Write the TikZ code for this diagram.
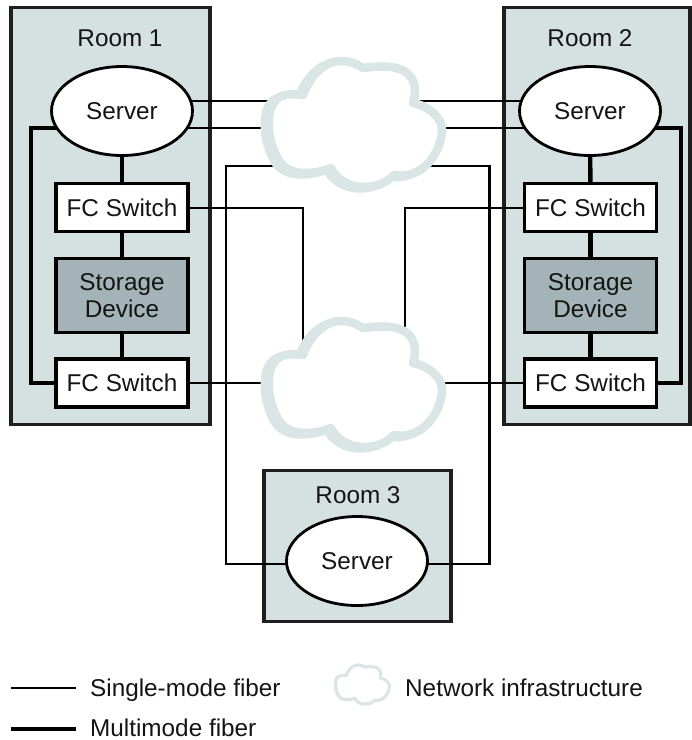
\documentclass[tikz,border=0pt]{standalone}
\usepackage{fontspec}
\setmainfont{Liberation Sans}
\usetikzlibrary{shapes.geometric}
\definecolor{roomfill}{HTML}{D5E0E0}
\definecolor{storefill}{HTML}{A3B3B8}
\definecolor{cloudline}{HTML}{DAE5E6}
\pgfdeclarelayer{roomlayer}
\pgfdeclarelayer{wirelayer}
\pgfsetlayers{roomlayer,wirelayer,main}
\tikzset{
  x=1pt,y=-1pt,
  every node/.style={font=\fontsize{24.3}{27}\selectfont,text=black!92},
  room/.style={rectangle,draw=black!88,line width=3.2pt,fill=roomfill,inner sep=0pt},
  srv/.style={ellipse,draw=black,line width=2.8pt,fill=white,inner sep=0pt,minimum width=141pt,minimum height=89pt},
  sw/.style={rectangle,draw=black,line width=3.2pt,fill=white,inner sep=0pt,minimum width=132pt,minimum height=48pt},
  store/.style={rectangle,draw=black,line width=3.2pt,fill=storefill,inner sep=0pt,minimum width=132pt,minimum height=74pt,align=center,font=\fontsize{24.3}{27}\selectfont},
  smf/.style={draw=black,line width=2.5pt},
  mmf/.style={draw=black,line width=4.4pt,line join=miter},
  lbl/.style={inner sep=0pt,anchor=base west},
  cloudanchor/.style={rectangle,minimum width=183pt,minimum height=137pt,inner sep=0pt},
}
\def\cloudpath{(-51,-29) .. controls (-44,-48) and (-30,-63) .. (-13,-63)
  .. controls (-4,-63) and (3,-60) .. (9,-56)
  .. controls (25,-58) and (46,-60) .. (56,-48)
  .. controls (62,-41) and (62,-30) .. (59,-21)
  .. controls (75,-18) and (90,-5) .. (88,8)
  .. controls (86,30) and (68,56) .. (40,51)
  .. controls (32,60) and (20,63) .. (10,63)
  .. controls (-5,63) and (-18,55) .. (-23,44)
  .. controls (-38,50) and (-66,54) .. (-76,35)
  .. controls (-84,20) and (-86,5) .. (-85,-4)
  .. controls (-85,-18) and (-78,-29) .. (-65,-29.5)
  .. controls (-60,-30) and (-55,-29.5) .. (-51,-29) -- cycle}
% cloud outline, local px with origin at the cloud centre; heavier on its lower left
\newcommand{\cloudshape}[4]{%
 \begin{scope}[shift={(#1,#2)},scale=#3]
 \draw[cloudline,line width=#4,fill=cloudline,line join=round,xshift=-3pt*#3,yshift=-1.5pt*#3] \cloudpath;
 \draw[cloudline,line width=#4,fill=white,line join=round,xshift=1pt*#3] \cloudpath;
 \end{scope}}
\begin{document}
\begin{tikzpicture}
\useasboundingbox (0,0) rectangle (692,740);
% rooms
\begin{pgfonlayer}{roomlayer}
\node[room,minimum width=199pt,minimum height=417pt] (room1) at (110.5,216) {};
\node[room,minimum width=186pt,minimum height=417pt] (room2) at (597,216) {};
\node[room,minimum width=187pt,minimum height=151pt] (room3) at (357.5,546) {};
\end{pgfonlayer}
\node[anchor=base] (r1t) at (120,46) {Room 1};
\node[anchor=base] (r2t) at (590,46) {Room 2};
\node[anchor=base] (r3t) at (358,503) {Room 3};
% boxes
\node[srv] (s1) at (122,111) {Server};
\node[srv] (s2) at (590,111) {Server};
\node[srv] (s3) at (357,561) {Server};
\node[sw] (f1a) at (122,207.5) {FC Switch};
\node[sw] (f1b) at (122,383) {FC Switch};
\node[sw] (f2a) at (590.5,207.5) {FC Switch};
\node[sw] (f2b) at (590.5,383) {FC Switch};
\node[store] (d1) at (122,295.5) {Storage\\Device};
\node[store] (d2) at (590.5,295.5) {Storage\\Device};
% cloud anchors and connector bends
\node[cloudanchor] (cloud1) at (353,124) {};
\node[cloudanchor] (cloud2) at (353,384) {};
\coordinate (c1l1) at (300,101); \coordinate (c1l2) at (300,128);
\coordinate (c1r1) at (400,101); \coordinate (c1r2) at (400,128);
\coordinate (c1l3) at (300,166); \coordinate (c1r3) at (420,166);
\coordinate (bl) at (226,166); \coordinate (br) at (489.5,166);
\coordinate (bl2) at (226,564); \coordinate (br2) at (489.5,564);
\coordinate (k1) at (303,208); \coordinate (k1e) at (303,350);
\coordinate (k2) at (405,208); \coordinate (k2e) at (405,350);
\coordinate (t1) at (31,128); \coordinate (t2) at (31,383);
\coordinate (u1) at (681,128); \coordinate (u2) at (681,383);
% connectors
\begin{pgfonlayer}{wirelayer}
\draw[smf] (s1.center |- c1l1) -- (c1l1);
\draw[smf] (s1.center |- c1l2) -- (c1l2);
\draw[smf] (s2.center |- c1r1) -- (c1r1);
\draw[smf] (s2.center |- c1r2) -- (c1r2);
\draw[smf] (c1l3) -- (bl) -- (bl2) -- (s3.center |- bl2);
\draw[smf] (c1r3) -- (br) -- (br2) -- (s3.center |- br2);
\draw[smf] (f1a.center |- k1) -- (k1) -- (k1e);
\draw[smf] (f2a.center |- k2) -- (k2) -- (k2e);
\draw[smf] (f1b) -- (f1b -| cloud2);
\draw[smf] (f2b) -- (f2b -| cloud2);
\draw[mmf] (s1) -- (f1a);
\draw[mmf] (f1a) -- (d1);
\draw[mmf] (d1) -- (f1b);
\draw[mmf] (s2) -- (f2a);
\draw[mmf] (f2a) -- (d2);
\draw[mmf] (d2) -- (f2b);
\draw[mmf] (s1.center |- t1) -- (t1) -- (t2) -- (f1b);
\draw[mmf] (s2.center |- u1) -- (u1) -- (u2) -- (f2b);
\end{pgfonlayer}
% clouds
\cloudshape{353}{124}{1}{8.5pt}
\cloudshape{353}{384}{1}{8.5pt}
% legend
\coordinate (l1a) at (11,688); \coordinate (l1b) at (76,688);
\coordinate (l2a) at (11,729); \coordinate (l2b) at (76,729);
\draw[smf] (l1a) -- (l1b);
\draw[mmf] (l2a) -- (l2b);
\node[lbl] (l1t) at (90,696) {Single-mode fiber};
\node[lbl] (l2t) at (90,736) {Multimode fiber};
\cloudshape{362}{684.5}{0.31}{3pt}
\node[lbl] (l3t) at (405,696) {Network infrastructure};
\end{tikzpicture}
\end{document}
